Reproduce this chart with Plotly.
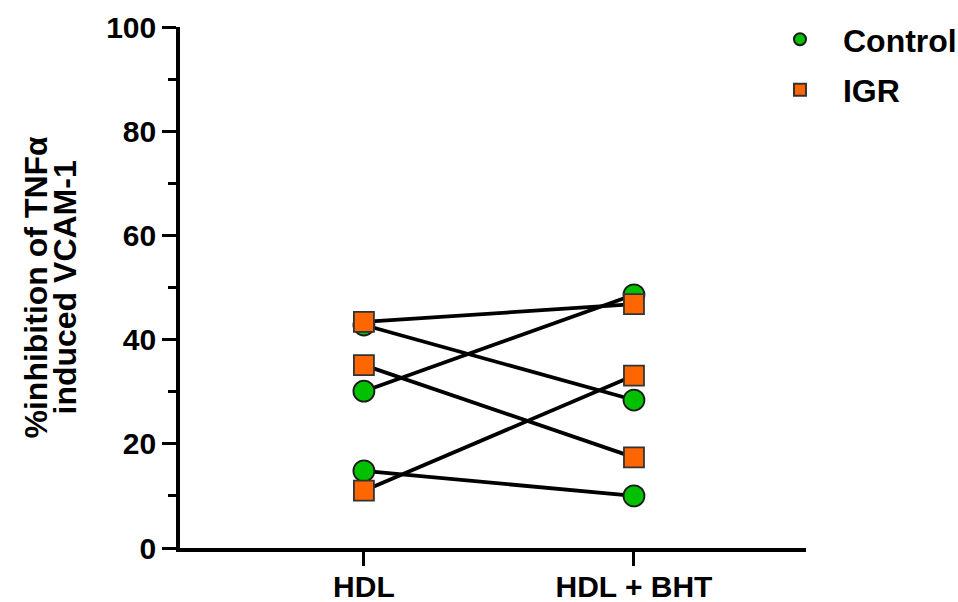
import plotly.graph_objects as go

# Paired measurements: each subject measured with HDL alone and HDL + BHT
categories = ["HDL", "HDL + BHT"]
control_hdl = [42.8, 30.1, 14.8]
control_bht = [28.4, 48.6, 10.0]
igr_hdl = [43.4, 35.1, 11.0]
igr_bht = [46.8, 17.4, 33.1]

y_ticks = [0, 20, 40, 60, 80, 100]

FONT = "Arial, Liberation Sans, sans-serif"
GREEN = "#00C000"
ORANGE = "#FF6600"

cat_pos = list(range(len(categories)))


def pair_lines(before, after):
    xs, ys = [], []
    for b, a in zip(before, after):
        xs += [cat_pos[0], cat_pos[1], None]
        ys += [b, a, None]
    return xs, ys


fig = go.Figure()

# connecting lines for every subject (both groups)
lx1, ly1 = pair_lines(control_hdl, control_bht)
lx2, ly2 = pair_lines(igr_hdl, igr_bht)
fig.add_trace(go.Scatter(
    x=lx1 + lx2, y=ly1 + ly2, mode="lines",
    line=dict(color="black", width=3.8),
    showlegend=False, hoverinfo="skip",
))


def group_points(before, after):
    xs, ys = [], []
    for b, a in zip(before, after):
        xs += [cat_pos[0], cat_pos[1]]
        ys += [b, a]
    return xs, ys


cx, cy = group_points(control_hdl, control_bht)
fig.add_trace(go.Scatter(
    x=cx, y=cy, mode="markers", name="Control", legendgroup="c",
    marker=dict(symbol="circle", size=21, color=GREEN,
                line=dict(color="#1a1a1a", width=1.8)),
))
ix, iy = group_points(igr_hdl, igr_bht)
fig.add_trace(go.Scatter(
    x=ix, y=iy, mode="markers", name="IGR", legendgroup="i",
    marker=dict(symbol="square", size=20, color=ORANGE,
                line=dict(color="#333333", width=1.8)),
))

fig.update_layout(
    width=958, height=602,
    margin=dict(l=180, r=152, t=27, b=54, autoexpand=False),
    plot_bgcolor="white", paper_bgcolor="white",
    font=dict(family=FONT, color="black"),
    legend=dict(
        x=0.9217, y=1.029, xanchor="left", yanchor="top",
        font=dict(size=32, family=FONT, weight="bold"),
        itemsizing="constant", itemwidth=76,
        traceorder="grouped", tracegroupgap=6,
        bgcolor="rgba(0,0,0,0)",
    ),
    xaxis=dict(
        range=[-0.681, 1.637],
        tickvals=cat_pos, ticktext=categories,
        showline=True, linecolor="black", linewidth=3.6,
        ticks="outside", ticklen=14, tickwidth=3.2, tickcolor="black",
        tickfont=dict(size=30, family=FONT, weight="bold"),
        ticklabelstandoff=-5,
        showgrid=False, zeroline=False, automargin=False,
    ),
    yaxis=dict(
        range=[0, 100],
        tickvals=y_ticks,
        showline=True, linecolor="black", linewidth=3.6,
        ticks="outside", ticklen=14, tickwidth=3.2, tickcolor="black",
        tickfont=dict(size=30, family=FONT, weight="bold"),
        minor=dict(dtick=10, ticks="outside", ticklen=8, tickwidth=3.2,
                   tickcolor="black", showgrid=False),
        showgrid=False, zeroline=False, automargin=False,
    ),
)

# two-line rotated axis title
for text, px in [("%inhibition of TNF\u03b1", 35), ("induced VCAM-1", 64)]:
    fig.add_annotation(
        text=text, textangle=-90, showarrow=False,
        xref="paper", yref="paper",
        x=(px - 180) / 626, y=0.5, xanchor="center", yanchor="middle",
        font=dict(size=32, family=FONT, weight="bold", color="black"),
    )

fig.write_html("out.html")
